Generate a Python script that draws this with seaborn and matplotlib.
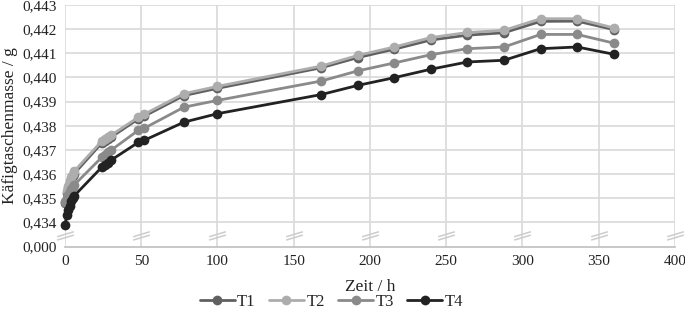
import matplotlib
matplotlib.use("Agg")
import matplotlib.pyplot as plt
from matplotlib.path import Path
import seaborn as sns
import pandas as pd

# Messzeitpunkte (h)
zeit = [0, 1, 2, 3, 4, 5, 6, 24, 26, 28, 30, 48, 52, 78, 100,
        168, 192, 216, 240, 264, 288, 312, 336, 360]

# Käfigtaschenmasse (g) je Tasche
t1 = [0.43482, 0.43520, 0.43542, 0.43562, 0.43580, 0.43592, 0.43602, 0.43728,
      0.43737, 0.43745, 0.43752, 0.43828, 0.43840, 0.43925, 0.43955, 0.44040,
      0.44082, 0.44117, 0.44155, 0.44175, 0.44185, 0.44232, 0.44233, 0.44198]
t2 = [0.43490, 0.43530, 0.43552, 0.43572, 0.43590, 0.43602, 0.43612, 0.43736,
      0.43745, 0.43753, 0.43760, 0.43835, 0.43848, 0.43933, 0.43963, 0.44047,
      0.44091, 0.44126, 0.44165, 0.44186, 0.44195, 0.44243, 0.44243, 0.44205]
t3 = [0.43484, 0.43500, 0.43515, 0.43527, 0.43538, 0.43547, 0.43555, 0.43669,
      0.43677, 0.43690, 0.43698, 0.43781, 0.43790, 0.43877, 0.43905, 0.43985,
      0.44027, 0.44060, 0.44094, 0.44119, 0.44126, 0.44178, 0.44178, 0.44142]
t4 = [0.43388, 0.43429, 0.43450, 0.43470, 0.43490, 0.43502, 0.43510, 0.43628,
      0.43636, 0.43645, 0.43657, 0.43731, 0.43740, 0.43815, 0.43850, 0.43929,
      0.43967, 0.43999, 0.44034, 0.44064, 0.44071, 0.44119, 0.44126, 0.44096]

namen = ["T1", "T2", "T3", "T4"]
farben = ["#606060", "#adadad", "#8a8a8a", "#222222"]

# y-Achse mit Bruch: 0,000 sitzt eine Stufe unter 0,434
y_ticks = [0.433, 0.434, 0.435, 0.436, 0.437, 0.438, 0.439, 0.440, 0.441, 0.442, 0.443]
y_labels = ["0,000", "0,434", "0,435", "0,436", "0,437", "0,438",
            "0,439", "0,440", "0,441", "0,442", "0,443"]
x_ticks = [0, 50, 100, 150, 200, 250, 300, 350, 400]

df = pd.DataFrame({
    "Zeit": zeit * 4,
    "Masse": t1 + t2 + t3 + t4,
    "Serie": [n for n in namen for _ in zeit],
})

sns.set_style("white")
plt.rcParams["font.family"] = ["Liberation Serif", "DejaVu Serif"]

fig, ax = plt.subplots(figsize=(6.85, 3.09), dpi=100)
fig.subplots_adjust(left=0.095, right=0.985, top=0.984, bottom=0.202)

# Gitter
for yt in y_ticks[1:]:
    ax.axhline(yt, color="#d9d9d9", lw=1.2, zorder=0)
for xt in x_ticks:
    ax.axvline(xt, color="#d9d9d9", lw=1.2, zorder=0)

sns.lineplot(data=df, x="Zeit", y="Masse", hue="Serie", palette=farben,
             marker="o", markersize=7, markeredgewidth=0, linewidth=2,
             ax=ax, legend=False, zorder=3, clip_on=False)

# Bruchzeichen
bruch = Path([(-1, -0.15), (1, 0.45), (-1, -0.55), (1, 0.05)],
             [Path.MOVETO, Path.LINETO, Path.MOVETO, Path.LINETO])
ax.plot(x_ticks, [0.4335] * len(x_ticks), ls="none", marker=bruch,
        markersize=12, markeredgecolor="#cccccc", markeredgewidth=1.1,
        clip_on=False, zorder=2)

ax.set_xlim(0, 400)
ax.set_ylim(0.433, 0.443)
ax.set_xticks(x_ticks)
ax.set_yticks(y_ticks)
ax.set_yticklabels(y_labels)
ax.tick_params(axis="both", length=0, labelsize=11, labelcolor="#222222", pad=6)
for s in ["top", "right", "left"]:
    ax.spines[s].set_visible(False)
ax.spines["bottom"].set_color("#bfbfbf")
ax.spines["bottom"].set_linewidth(1.2)

ax.set_xlabel("Zeit / h", fontsize=12.5, color="#222222", labelpad=8)
ax.set_ylabel("Käfigtaschenmasse / g", fontsize=12.5, color="#222222", labelpad=3)

handles = [plt.Line2D([], [], color=c, lw=2, marker="o", markersize=7,
                      markeredgewidth=0) for c in farben]
fig.legend(handles, namen, loc="center", bbox_to_anchor=(0.484, 0.022),
           ncol=4, frameon=False, fontsize=12, handlelength=2.1,
           handletextpad=0.15, columnspacing=0.8, borderpad=0.1)

fig.savefig("out.png", dpi=100)
